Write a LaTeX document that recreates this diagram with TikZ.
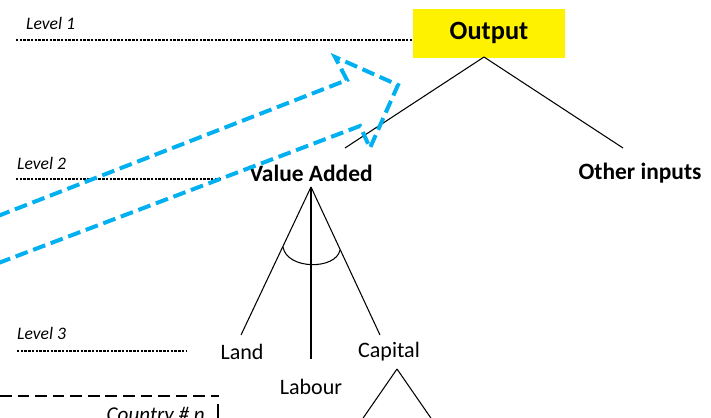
\documentclass[tikz,border=0pt]{standalone}
\usepackage{fontspec}
\setmainfont{Carlito}
\usepackage{tikz}
\usetikzlibrary{positioning}
\definecolor{arrowblue}{RGB}{0,176,240}
\tikzstyle{topbox} = [rectangle, fill=yellow, minimum width=4.56cm, minimum height=1.47cm, inner sep=0pt, font=\fontsize{22.5}{22.5}\selectfont\bfseries]
\tikzstyle{headlabel} = [inner sep=1pt, font=\fontsize{20}{20}\selectfont\bfseries]
\tikzstyle{factor} = [inner sep=1pt, font=\fontsize{18.8}{18.8}\selectfont]
\tikzstyle{levellabel} = [inner sep=0pt, anchor=west, font=\fontsize{15}{15}\selectfont\itshape]
\tikzstyle{levelline} = [line width=1pt, dash pattern=on 2pt off 1.2pt]
\tikzstyle{branch} = [line width=0.9pt]
\tikzstyle{bigarrow} = [arrowblue, line width=3.4pt, dash pattern=on 11pt off 5pt, line join=miter]

\begin{document}
\begin{tikzpicture}[x=0.03cm, y=-0.03cm]
\useasboundingbox (0,0) rectangle (711,417);
\clip (0,0) rectangle (711,417);

% tree nodes
\node (out) [topbox] at (489,33) {Output};
\node (va) [headlabel] at (311,173) {Value Added};
\node (oth) [headlabel] at (640,173) {Other inputs};
\node (land) [factor] at (242,352) {Land};
\node (lab) [factor] at (311,387) {Labour};
\node (cap) [factor] at (389,352) {Capital};

% level marks
\node (lv1) [levellabel] at (26,23) {Level 1};
\node (lv2) [levellabel] at (17,163) {Level 2};
\node (lv3) [levellabel] at (17,333) {Level 3};
\coordinate (l1s) at (16,40);
\coordinate (l2s) at (16,179);
\coordinate (l2e) at (222,179);
\coordinate (l3s) at (17,351);
\coordinate (l3e) at (187,351);
\draw [levelline] (l1s) -- (out.west |- l1s);
\draw [levelline] (l2s) -- (l2e);
\draw [levelline] (l3s) -- (l3e);

% level 1 -> 2
\coordinate (apex1) at (484,57);
\coordinate (vaend) at (345,148);
\coordinate (othend) at (623,148);
\draw [branch] (apex1) -- (vaend);
\draw [branch] (apex1) -- (othend);

% level 2 -> 3
\coordinate (apex2) at (311,187);
\coordinate (landend) at (241,335);
\coordinate (labend) at (311,359);
\coordinate (capend) at (380,335);
\draw [branch] (apex2) -- (landend);
\draw [branch] (apex2) -- (labend);
\draw [branch] (apex2) -- (capend);
\draw [branch] (283,247) .. controls (287,270) and (336,270) .. (340,250);

% capital split
\coordinate (apex3) at (397,369);
\draw [branch] (apex3) -- (359,424);
\draw [branch] (apex3) -- (435,424);

% country box
\draw [line width=1.1pt, dash pattern=on 10pt off 5pt] (0,396) -- (219,396);
\node (cty) [inner sep=0pt, anchor=base east, font=\fontsize{18}{18}\selectfont\itshape] at (205,421) {Country \# n};
\draw [line width=1pt] (218,404) -- (218,420);

% hollow blue arrow
\draw [bigarrow] (-20,223) -- (347,80) -- (335,57) -- (398,85) -- (370,148) -- (360,126) -- (-20,270);

\end{tikzpicture}
\end{document}
